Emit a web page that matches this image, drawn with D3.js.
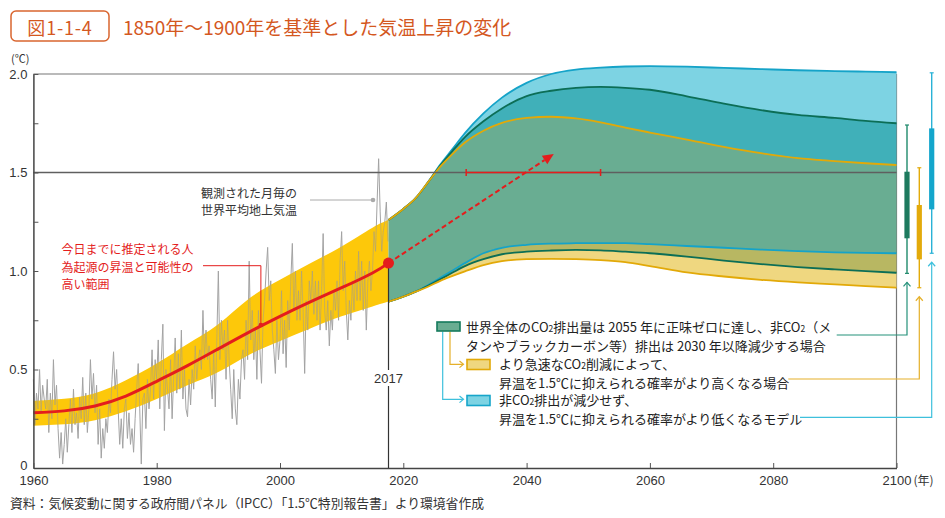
<!DOCTYPE html>
<html><head><meta charset="utf-8">
<script src="https://cdn.jsdelivr.net/npm/d3@7"></script>
<style>
body{margin:0;background:#fff;}
svg{display:block;font-family:"Noto Sans CJK JP","Noto Sans",sans-serif;}
</style>
</head><body>
<svg id="c" width="945" height="518"></svg>
<script>
// ---------- DATA ----------
const yTickValues = [0, 0.25, 0.5, 0.75, 1.0, 1.25, 1.5, 1.75, 2.0];
const yTickLabels = {0: "0", 0.5: "0.5", 1: "1.0", 1.5: "1.5", 2: "2.0"};
const xTickValues = [1960, 1980, 2000, 2020, 2040, 2060, 2080, 2100];

// observed monthly global mean surface temperature (sampled 4 per year from 1960)
const obsStart = 1960, obsPerYear = 4;
const observed = [
  0.45,0.22,0.38,0.30, 0.50,0.28,0.42,0.35, 0.30,0.45,0.18,0.38, 0.25,0.55,0.32,0.42,
  0.20,0.05,0.18,0.02, 0.12,0.25,0.08,0.22, 0.35,0.18,0.40,0.22, 0.28,0.15,0.36,0.25,
  0.46,0.22,0.38,0.18, 0.30,0.55,0.35,0.48, 0.28,0.42,0.12,0.30, 0.05,0.20,0.10,0.25,
  0.18,0.35,0.28,0.45, 0.59,0.40,0.50,0.30, 0.12,0.25,0.10,0.30, 0.35,0.15,0.28,0.12,
  0.20,0.08,0.25,0.40, 0.53,0.30,0.02,0.35, 0.38,0.20,0.45,0.30, 0.40,0.60,0.35,0.55,
  0.45,0.65,0.30,0.55, 0.73,0.19,0.50,0.40, 0.30,0.55,0.25,0.46, 0.66,0.38,0.58,0.40,
  0.70,0.35,0.50,0.30, 0.26,0.45,0.32,0.50, 0.40,0.62,0.45,0.55, 0.60,0.50,0.80,0.55,
  0.70,0.55,0.62,0.45, 0.35,0.60,0.31,0.65, 1.00,0.55,0.75,0.60, 0.70,0.45,0.75,0.55,
  0.40,0.25,0.50,0.30, 0.22,0.45,0.35,0.55, 0.60,0.45,0.75,0.55, 1.05,0.65,0.80,0.55,
  0.70,0.45,0.80,0.60, 0.43,0.75,0.85,1.00, 1.12,0.85,0.95,0.70, 0.60,0.48,0.75,0.55,
  0.65,0.90,0.58,0.75, 0.51,0.85,0.70,0.95, 1.14,0.80,1.00,0.75, 0.90,0.75,1.00,0.80,
  0.48,0.85,0.70,0.95, 0.85,1.00,0.78,0.95, 0.75,0.95,0.70,0.90, 1.19,0.80,0.70,0.85,
  0.62,0.80,0.70,0.90, 0.80,0.95,0.75,1.05, 1.20,0.90,1.05,0.80, 0.65,0.85,0.75,0.95,
  0.80,1.00,0.85,1.10, 0.85,1.05,0.80,1.00, 0.70,0.95,1.05,0.90, 1.00,1.20,1.10,1.35,
  1.57,1.30,1.10,1.20, 1.25,1.35,1.15
];

// estimated human-induced warming to date (likely range)
const histYears   = [1960, 1965, 1970, 1975, 1980, 1985, 1990, 1995, 2000, 2005, 2010, 2015, 2017.6];
const histCentral = [0.28, 0.29, 0.315, 0.365, 0.44, 0.52, 0.605, 0.69, 0.77, 0.845, 0.915, 0.99, 1.04];
const histLow     = [0.215, 0.222, 0.243, 0.288, 0.35, 0.42, 0.487, 0.575, 0.645, 0.71, 0.77, 0.82, 0.845];
const histHigh    = [0.34, 0.352, 0.38, 0.445, 0.53, 0.63, 0.73, 0.86, 0.955, 1.04, 1.125, 1.22, 1.259];

// projections
const projYears = [2017.6, 2020, 2022, 2024, 2026, 2028, 2030, 2033, 2036, 2040, 2044, 2048, 2052, 2056, 2060, 2066, 2072, 2078, 2084, 2090, 2095, 2100];
const blueHigh   = [1.259, 1.315, 1.37, 1.45, 1.54, 1.62, 1.70, 1.80, 1.88, 1.955, 2.0, 2.022, 2.032, 2.038, 2.04, 2.037, 2.031, 2.025, 2.019, 2.015, 2.012, 2.009];
const greenHigh  = [1.259, 1.315, 1.37, 1.45, 1.535, 1.61, 1.68, 1.76, 1.825, 1.888, 1.915, 1.93, 1.935, 1.93, 1.92, 1.887, 1.85, 1.817, 1.792, 1.777, 1.762, 1.75];
const yellowHigh = [1.259, 1.315, 1.37, 1.45, 1.53, 1.595, 1.652, 1.712, 1.752, 1.777, 1.783, 1.775, 1.755, 1.728, 1.703, 1.667, 1.63, 1.598, 1.573, 1.558, 1.547, 1.538];
const blueLow    = [0.845, 0.87, 0.895, 0.928, 0.965, 1.003, 1.04, 1.09, 1.118, 1.133, 1.139, 1.141, 1.142, 1.141, 1.136, 1.127, 1.118, 1.109, 1.101, 1.095, 1.092, 1.09];
const greenLow   = [0.845, 0.87, 0.895, 0.925, 0.958, 0.992, 1.025, 1.06, 1.085, 1.098, 1.104, 1.107, 1.105, 1.098, 1.09, 1.073, 1.053, 1.035, 1.02, 1.008, 0.999, 0.991];
const yellowLow  = [0.845, 0.87, 0.895, 0.92, 0.95, 0.975, 0.998, 1.03, 1.05, 1.06, 1.062, 1.06, 1.055, 1.045, 1.025, 0.993, 0.972, 0.955, 0.942, 0.932, 0.923, 0.915];

// 2100 range bars (green, yellow, blue)
const barThinLow  = [0.988, 0.915, 1.09];
const barThinHigh = [1.741, 1.524, 2.006];
const barBoxLow   = [1.166, 1.059, 1.313];
const barBoxHigh  = [1.504, 1.335, 1.724];

// 1.5°C reached range & arrow
const reachStart = 2030.2, reachEnd = 2052, reachLevel = 1.5;
const arrowFrom = [2017.6, 1.04], arrowTo = [2044.4, 1.594];

// ---------- DRAW ----------
const svg = d3.select("#c");
const X0 = 33.4, X1 = 896.5, Y0 = 468, Y1 = 74;
const x = d3.scaleLinear().domain([1960, 2100]).range([X0, X1]);
const y = d3.scaleLinear().domain([0, 2]).range([Y0, Y1]);
const numFont = "'Liberation Sans Narrow','Liberation Sans',sans-serif";

const C = {
  band: "#fdc80a", red: "#e41d1d", grey: "#a3a3a3",
  lblue: "#7dd3e3", teal: "#40b0b9", sage: "#69ad92", olive: "#b8b762", lyellow: "#efd780",
  lineBlue: "#15a3c8", lineGreen: "#0c6e56", lineYellow: "#e2a908",
  orange: "#d4581f"
};

// title
svg.append("rect").attr("x", 11).attr("y", 11).attr("width", 98).attr("height", 30).attr("rx", 5)
  .attr("fill", "#fff").attr("stroke", "#d9652f").attr("stroke-width", 1.5);
svg.append("text").attr("x", 60).attr("y", 26.5).attr("text-anchor", "middle").attr("dominant-baseline", "central")
  .attr("font-size", 18).attr("letter-spacing", 0.8).attr("fill", C.orange).text("図1-1-4");
svg.append("text").attr("x", 123).attr("y", 26.5).attr("dominant-baseline", "central")
  .attr("font-size", 19).attr("fill", C.orange).text("1850年～1900年を基準とした気温上昇の変化");

// frame top and right
svg.append("line").attr("x1", X0).attr("x2", X1).attr("y1", y(2)).attr("y2", y(2)).attr("stroke", "#777").attr("stroke-width", 1.2);
svg.append("line").attr("x1", X1).attr("x2", X1).attr("y1", y(2)).attr("y2", Y0).attr("stroke", "#777").attr("stroke-width", 1.2);

// observed grey line
const obsLine = d3.line().x((d, i) => x(obsStart + i / obsPerYear)).y(d => y(d));
svg.append("path").datum(observed).attr("d", obsLine).attr("fill", "none").attr("stroke", C.grey).attr("stroke-width", 1);

// historical band
const hist = histYears.map((yr, i) => ({yr, c: histCentral[i], lo: histLow[i], hi: histHigh[i]}));
const histArea = d3.area().x(d => x(d.yr)).y0(d => y(d.lo)).y1(d => y(d.hi)).curve(d3.curveNatural);
svg.append("path").datum(hist).attr("d", histArea).attr("fill", C.band);
svg.append("clipPath").attr("id", "bandClip").append("path").datum(hist).attr("d", histArea);
svg.append("path").datum(observed).attr("d", obsLine).attr("fill", "none").attr("stroke", "#9a9a9a")
  .attr("stroke-width", 1).attr("opacity", 0.5).attr("clip-path", "url(#bandClip)");

// projection fills
const proj = projYears.map((yr, i) => ({yr, bH: blueHigh[i], gH: greenHigh[i], yH: yellowHigh[i], bL: blueLow[i], gL: greenLow[i], yL: yellowLow[i]}));
const curve = d3.curveMonotoneX;
function band(k0, k1, fill) {
  svg.append("path").datum(proj)
    .attr("d", d3.area().x(d => x(d.yr)).y0(d => y(d[k0])).y1(d => y(d[k1])).curve(curve))
    .attr("fill", fill);
}
band("gH", "bH", C.lblue);
band("yH", "gH", C.teal);
band("bL", "yH", C.sage);
band("gL", "bL", C.olive);
band("yL", "gL", C.lyellow);
function pline(k, col) {
  svg.append("path").datum(proj)
    .attr("d", d3.line().x(d => x(d.yr)).y(d => y(d[k])).curve(curve))
    .attr("fill", "none").attr("stroke", col).attr("stroke-width", 1.8);
}
pline("bH", C.lineBlue); pline("bL", C.lineBlue);
pline("gH", C.lineGreen); pline("gL", C.lineGreen);
pline("yH", C.lineYellow); pline("yL", C.lineYellow);

// 1.5 line
svg.append("line").attr("x1", X0).attr("x2", X1).attr("y1", y(1.5)).attr("y2", y(1.5)).attr("stroke", "#5f5f5f").attr("stroke-width", 1.3);

// red central line
svg.append("path").datum(hist)
  .attr("d", d3.line().x(d => x(d.yr)).y(d => y(d.c)).curve(d3.curveNatural))
  .attr("fill", "none").attr("stroke", C.red).attr("stroke-width", 3);

// axes
const yAxis = d3.axisLeft(y).tickValues(yTickValues).tickSizeInner(-5).tickSizeOuter(0).tickPadding(6)
  .tickFormat(d => yTickLabels[d] !== undefined ? yTickLabels[d] : "");
const gy = svg.append("g").attr("transform", `translate(${X0},0)`).call(yAxis);
gy.select(".domain").attr("stroke", "#444").attr("stroke-width", 1.5);
gy.selectAll(".tick line").attr("stroke", "#555");
gy.selectAll("text").attr("font-size", 13).attr("fill", "#333").attr("font-family", numFont);
gy.selectAll(".tick").filter(d => d === 0).select("text").attr("dy", "0.1em");

const xAxis = d3.axisBottom(x).tickValues(xTickValues).tickSizeInner(-5).tickSizeOuter(0).tickPadding(8).tickFormat(d3.format("d"));
const gx = svg.append("g").attr("transform", `translate(0,${Y0})`).call(xAxis);
gx.select(".domain").attr("stroke", "#444").attr("stroke-width", 1.6);
gx.selectAll(".tick line").attr("stroke", "#555");
gx.selectAll("text").attr("font-size", 13).attr("fill", "#333").attr("font-family", numFont);
svg.append("text").attr("x", X1 + 17).attr("y", 485).attr("font-size", 12).attr("fill", "#333").text("(年)");
svg.append("text").attr("x", 11).attr("y", 63).attr("font-size", 11).attr("fill", "#333").text("(℃)");

// 2017 marker line + label
const mx = x(arrowFrom[0]);
svg.append("line").attr("x1", mx).attr("x2", mx).attr("y1", y(arrowFrom[1])).attr("y2", Y0).attr("stroke", "#333").attr("stroke-width", 1.2);
svg.append("rect").attr("x", mx - 15).attr("y", 370).attr("width", 30).attr("height", 16).attr("fill", "#fff");
svg.append("text").attr("x", mx).attr("y", 378).attr("text-anchor", "middle").attr("dominant-baseline", "central")
  .attr("font-size", 13).attr("fill", "#333").attr("font-family", numFont).text("2017");

// 1.5 reach range (red)
const ry = y(reachLevel);
svg.append("line").attr("x1", x(reachStart)).attr("x2", x(reachEnd)).attr("y1", ry).attr("y2", ry).attr("stroke", C.red).attr("stroke-width", 1.5);
[reachStart, reachEnd].forEach(v => svg.append("line").attr("x1", x(v)).attr("x2", x(v)).attr("y1", ry - 3.5).attr("y2", ry + 3.5).attr("stroke", C.red).attr("stroke-width", 1.5));

// dashed arrow
const ax0 = x(arrowFrom[0]), ay0 = y(arrowFrom[1]), ax1 = x(arrowTo[0]), ay1 = y(arrowTo[1]);
const ang = Math.atan2(ay1 - ay0, ax1 - ax0);
const headL = 11, headW = 5;
const bx = ax1 - headL * Math.cos(ang), by = ay1 - headL * Math.sin(ang);
svg.append("line").attr("x1", ax0).attr("y1", ay0).attr("x2", bx).attr("y2", by)
  .attr("stroke", C.red).attr("stroke-width", 2).attr("stroke-dasharray", "5,3");
svg.append("path").attr("d", `M${ax1},${ay1}L${bx - headW * Math.sin(ang)},${by + headW * Math.cos(ang)}L${bx + headW * Math.sin(ang)},${by - headW * Math.cos(ang)}Z`).attr("fill", C.red);
svg.append("circle").attr("cx", ax0).attr("cy", ay0).attr("r", 5.5).attr("fill", C.red);

// multi-line text helper ("₂" rendered as subscript)
function multi(g, xx, yTop, lines, lh, attrs) {
  lines.forEach((line, li) => {
    const t = g.append("text").attr("x", xx).attr("y", yTop + li * lh).attr("dominant-baseline", "central");
    if (attrs) Object.entries(attrs).forEach(([k, v]) => t.attr(k, v));
    const parts = line.split("₂");
    parts.forEach((p, i) => {
      const ts = t.append("tspan").text(p);
      if (i > 0) ts.attr("dy", -2);
      if (i < parts.length - 1) t.append("tspan").text("2").attr("font-size", 8.5).attr("dy", 2);
    });
  });
}

// annotations
multi(svg, 201, 191.5, ["観測された月毎の", "世界平均地上気温"], 17.5, {"font-size": 12, fill: "#333"});
svg.append("line").attr("x1", 310).attr("x2", 373).attr("y1", 200).attr("y2", 200).attr("stroke", "#aaa").attr("stroke-width", 1);
svg.append("circle").attr("cx", 373).attr("cy", 200).attr("r", 2.3).attr("fill", "#aaa");

multi(svg, 61.5, 248, ["今日までに推定される人", "為起源の昇温と可能性の", "高い範囲"], 17.5, {"font-size": 12, fill: C.red});
const dotYear = 1996.9;
const dotY = 325;
svg.append("path").attr("d", `M203,265.7H${x(dotYear)}V${dotY}`).attr("fill", "none").attr("stroke", C.red).attr("stroke-width", 1);
svg.append("circle").attr("cx", x(dotYear)).attr("cy", dotY).attr("r", 2.3).attr("fill", C.red);

// right-side 2100 bars
const barBoxCols = ["#1d7a5e", "#e3aa0a", "#14a6cc"];
const barThinCols = ["#1f8a6c", "#e3aa0a", "#2ab2d6"];
const barOffsets = [10.5, 22.8, 35.2];
const connY = [335, 379, 417.3];
const connX0 = [836.7, 788.3, 800];
const connCols = ["#24917a", "#e5b02a", "#3ec0dc"];
barOffsets.forEach((off, i) => {
  const bx = X1 + off;
  svg.append("line").attr("x1", bx).attr("x2", bx).attr("y1", y(barThinHigh[i])).attr("y2", y(barThinLow[i])).attr("stroke", barThinCols[i]).attr("stroke-width", 1.4);
  [barThinHigh[i], barThinLow[i]].forEach(v => svg.append("line").attr("x1", bx - 2).attr("x2", bx + 2).attr("y1", y(v)).attr("y2", y(v)).attr("stroke", barThinCols[i]).attr("stroke-width", 1.2));
  svg.append("rect").attr("x", bx - 2.6).attr("width", 5.2).attr("y", y(barBoxHigh[i])).attr("height", y(barBoxLow[i]) - y(barBoxHigh[i])).attr("fill", barBoxCols[i]);
  const tipY = y(barThinLow[i]) + 9;
  svg.append("path").attr("d", `M${connX0[i]},${connY[i]}H${bx}V${tipY}`).attr("fill", "none").attr("stroke", connCols[i]).attr("stroke-width", 1.2);
  svg.append("path").attr("d", `M${bx - 3.5},${tipY + 4}L${bx},${tipY}L${bx + 3.5},${tipY + 4}`).attr("fill", "none").attr("stroke", connCols[i]).attr("stroke-width", 1.2);
});

// legend
svg.append("path").attr("d", "M442.7,331.5V399.3H463").attr("fill", "none").attr("stroke", "#3ec0dc").attr("stroke-width", 1.2);
svg.append("path").attr("d", "M459.5,396L463.5,399.3L459.5,402.6").attr("fill", "none").attr("stroke", "#3ec0dc").attr("stroke-width", 1.2);
svg.append("path").attr("d", "M450,331.5V364.3H463").attr("fill", "none").attr("stroke", "#e5b02a").attr("stroke-width", 1.2);
svg.append("path").attr("d", "M459.5,361L463.5,364.3L459.5,367.6").attr("fill", "none").attr("stroke", "#e5b02a").attr("stroke-width", 1.2);

svg.append("rect").attr("x", 437).attr("y", 322).attr("width", 23).attr("height", 9).attr("fill", C.sage).attr("stroke", "#157a5c").attr("stroke-width", 1.6);
svg.append("rect").attr("x", 467).attr("y", 359.5).attr("width", 23).attr("height", 10).attr("fill", C.lyellow).attr("stroke", "#e2a908").attr("stroke-width", 1.6);
svg.append("rect").attr("x", 467).attr("y", 395.5).attr("width", 23).attr("height", 10).attr("fill", C.lblue).attr("stroke", "#16a5ca").attr("stroke-width", 1.6);

const lgAttr = {"font-size": 13, fill: "#222"};
multi(svg, 466, 325.5, ["世界全体のCO₂排出量は 2055 年に正味ゼロに達し、非CO₂（メ", "タンやブラックカーボン等）排出は 2030 年以降減少する場合"], 19.5, lgAttr);
multi(svg, 499, 362.5, ["より急速なCO₂削減によって、", "昇温を1.5℃に抑えられる確率がより高くなる場合"], 19, lgAttr);
multi(svg, 499, 399.3, ["非CO₂排出が減少せず、", "昇温を1.5℃に抑えられる確率がより低くなるモデル"], 19, lgAttr);

// source
svg.append("text").attr("x", 10).attr("y", 502).attr("dominant-baseline", "central").attr("font-size", 12.8).attr("fill", "#333")
  .text("資料：気候変動に関する政府間パネル（IPCC）「1.5℃特別報告書」より環境省作成");
</script>
</body></html>
